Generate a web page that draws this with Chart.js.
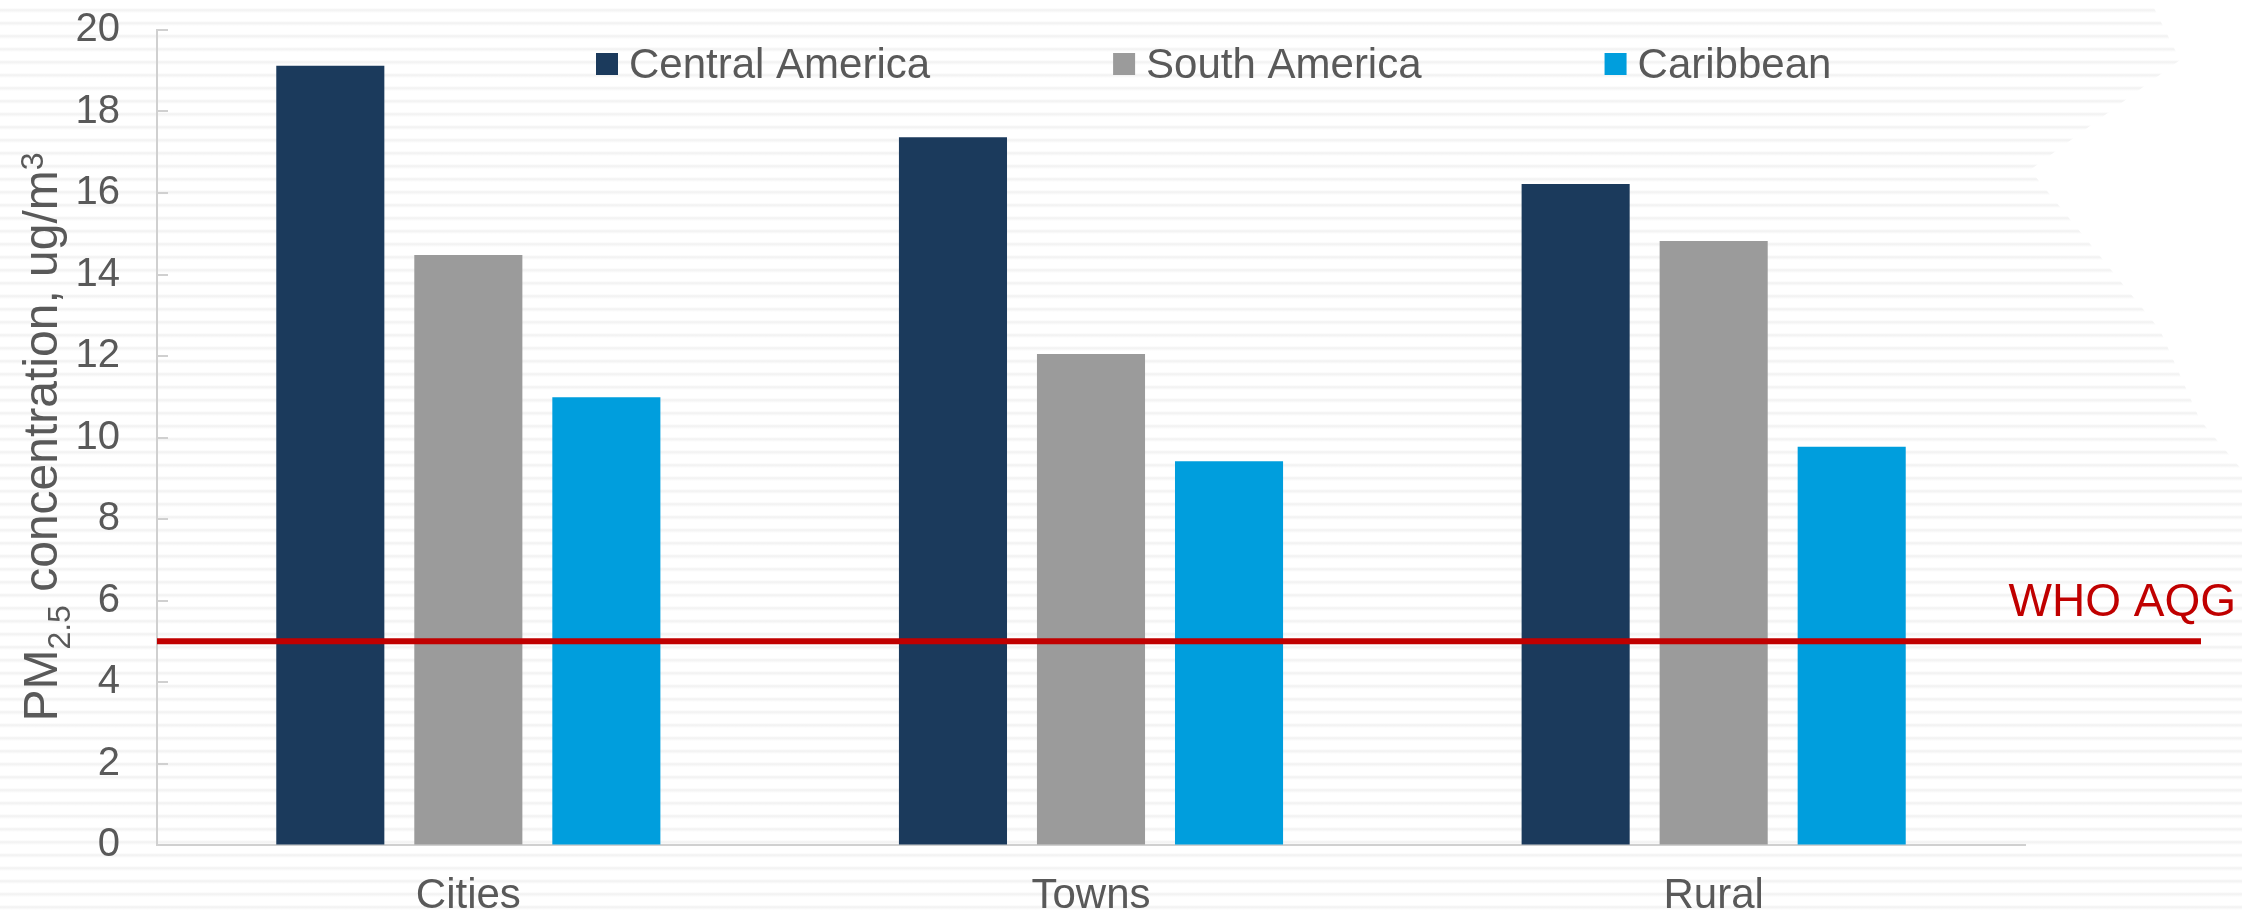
<!DOCTYPE html>
<html>
<head>
<meta charset="utf-8">
<script src="https://cdn.jsdelivr.net/npm/chart.js@4.4.0/dist/chart.umd.min.js"></script>
<style>
  html, body { margin: 0; padding: 0; background: #fff; }
  #wrap {
    position: relative; width: 2242px; height: 915px; overflow: hidden;
    background: repeating-linear-gradient(180deg, #ffffff 0px, #ffffff 8px, #f1f1f1 10px, #ffffff 13px);
  }
  #notch {
    position: absolute; left: 0; top: 0; width: 2242px; height: 915px; background: #fff;
    clip-path: polygon(2150px 0, 2242px 0, 2242px 470px, 2200px 420px, 2160px 330px, 2030px 170px, 2180px 60px);
  }
  canvas { position: absolute; left: 0; top: 0; }
</style>
</head>
<body>
<div id="wrap">
  <div id="notch"></div>
  <canvas id="chart" width="2242" height="915"></canvas>
</div>
<script>
  // data
  var categories = ["Cities", "Towns", "Rural"];
  var seriesNames = ["Central America", "South America", "Caribbean"];
  var centralAmerica = [19.12, 17.37, 16.22];
  var southAmerica = [14.48, 12.05, 14.82];
  var caribbean = [10.99, 9.42, 9.77];
  var yTicks = [0, 2, 4, 6, 8, 10, 12, 14, 16, 18, 20];
  var whoGuideline = 5;
  var whoLabel = "WHO AQG";

  var colors = ["#1b3a5c", "#9b9b9b", "#009edd"];
  var textColor = "#595959";
  var axisColor = "#d0d0d0";
  var fontFamily = "'Liberation Sans', Arial, sans-serif";

  // small inward tick marks on the y axis
  var innerTicks = {
    id: "innerTicks",
    afterDraw: function(chart) {
      var ctx = chart.ctx, y = chart.scales.y, left = chart.chartArea.left;
      ctx.save();
      ctx.strokeStyle = axisColor;
      ctx.lineWidth = 2;
      yTicks.forEach(function(v) {
        var py = Math.round(y.getPixelForValue(v));
        ctx.beginPath();
        ctx.moveTo(left, py);
        ctx.lineTo(left + 11, py);
        ctx.stroke();
      });
      ctx.restore();
    }
  };

  // WHO guideline line with its label
  var whoLine = {
    id: "whoLine",
    afterDatasetsDraw: function(chart) {
      var ctx = chart.ctx, py = chart.scales.y.getPixelForValue(whoGuideline);
      ctx.save();
      ctx.strokeStyle = "#c00000";
      ctx.lineWidth = 6;
      ctx.beginPath();
      ctx.moveTo(chart.chartArea.left, py);
      ctx.lineTo(2201, py);
      ctx.stroke();
      ctx.fillStyle = "#c00000";
      ctx.font = "46px " + fontFamily;
      ctx.textAlign = "right";
      ctx.textBaseline = "alphabetic";
      ctx.fillText(whoLabel, 2236, py - 25);
      ctx.restore();
    }
  };

  // legend laid over the top of the plot
  var topLegend = {
    id: "topLegend",
    afterDraw: function(chart) {
      var ctx = chart.ctx, x = 596, yMid = 64;
      ctx.save();
      ctx.font = "42px " + fontFamily;
      ctx.textBaseline = "middle";
      ctx.textAlign = "left";
      chart.data.datasets.forEach(function(ds) {
        ctx.fillStyle = ds.backgroundColor;
        ctx.fillRect(x, yMid - 11, 22, 22);
        ctx.fillStyle = textColor;
        ctx.fillText(ds.label, x + 33, yMid + 2);
        x += 33 + ctx.measureText(ds.label).width + 183;
      });
      ctx.restore();
    }
  };

  // rotated y title with sub/superscripts
  var yTitle = {
    id: "yTitle",
    afterDraw: function(chart) {
      var ctx = chart.ctx;
      var big = "48px " + fontFamily;
      var small = "32px " + fontFamily;
      var parts = [
        { t: "PM", f: big, dy: 0 },
        { t: "2.5", f: small, dy: 13 },
        { t: " concentration, ug/m", f: big, dy: 0 },
        { t: "3", f: small, dy: -14 }
      ];
      var total = 0;
      ctx.save();
      parts.forEach(function(p) { ctx.font = p.f; p.w = ctx.measureText(p.t).width; total += p.w; });
      ctx.translate(57, 437);
      ctx.rotate(-Math.PI / 2);
      ctx.fillStyle = textColor;
      ctx.textBaseline = "alphabetic";
      ctx.textAlign = "left";
      var x = -total / 2;
      parts.forEach(function(p) {
        ctx.font = p.f;
        ctx.fillText(p.t, x, p.dy);
        x += p.w;
      });
      ctx.restore();
    }
  };

  var datasets = [centralAmerica, southAmerica, caribbean].map(function(values, i) {
    return {
      label: seriesNames[i],
      data: values,
      backgroundColor: colors[i],
      borderWidth: 0,
      categoryPercentage: 0.665,
      barPercentage: 0.783
    };
  });

  new Chart(document.getElementById("chart"), {
    type: "bar",
    data: { labels: categories, datasets: datasets },
    options: {
      responsive: false,
      animation: false,
      devicePixelRatio: 1,
      layout: { padding: { top: 30, right: 217, bottom: 0, left: 0 } },
      plugins: {
        legend: { display: false },
        tooltip: { enabled: false }
      },
      scales: {
        x: {
          grid: { display: false, drawTicks: false },
          border: { color: axisColor, width: 2 },
          ticks: {
            color: textColor,
            padding: 26,
            font: { family: fontFamily, size: 42 }
          },
          afterFit: function(s) { s.height = 70; }
        },
        y: {
          min: 0,
          max: 20,
          afterBuildTicks: function(s) { s.ticks = yTicks.map(function(v) { return { value: v }; }); },
          grid: { drawOnChartArea: false, drawTicks: false },
          border: { color: axisColor, width: 2 },
          ticks: {
            color: textColor,
            padding: 37,
            font: { family: fontFamily, size: 40 }
          },
          afterFit: function(s) { s.width = 157; s.paddingTop = 0; s.paddingBottom = 0; }
        }
      }
    },
    plugins: [innerTicks, whoLine, topLegend, yTitle]
  });
</script>
</body>
</html>
